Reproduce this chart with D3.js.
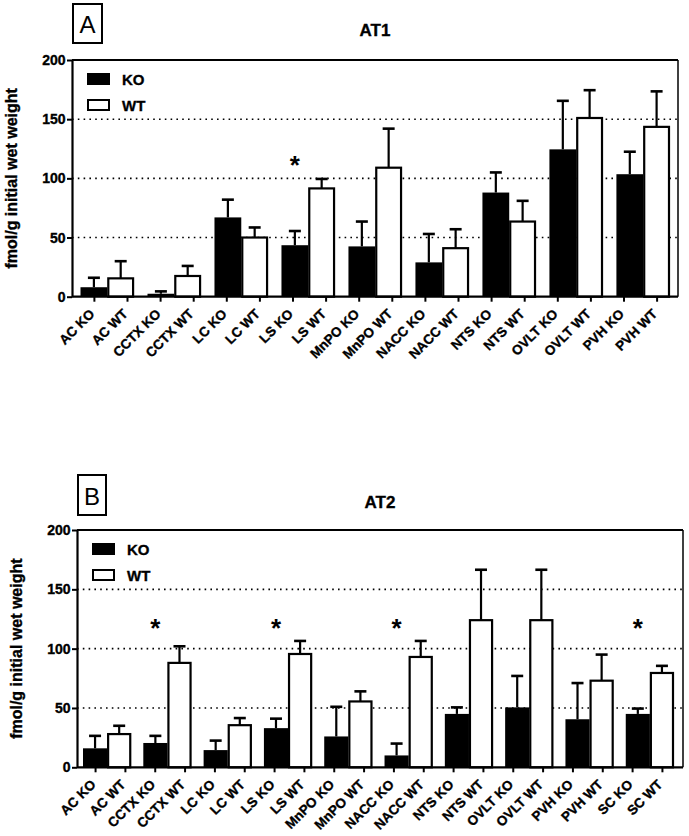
<!DOCTYPE html>
<html><head><meta charset="utf-8">
<script src="https://cdn.jsdelivr.net/npm/d3@7"></script>
<style>
body{margin:0;background:#fff;}
text{font-family:"Liberation Sans",Arial,sans-serif;}
.heavy{stroke:#000;stroke-width:0.35px;}
</style></head>
<body>
<svg id="chart" width="689" height="836"></svg>
<script>
// ---- Data ----
const yTicks = [0, 50, 100, 150, 200];
const groups = ["KO", "WT"];

const regionsA = ["AC", "CCTX", "LC", "LS", "MnPO", "NACC", "NTS", "OVLT", "PVH"];
const koA   = [8, 2.5, 67, 43.5, 42.5, 29, 88, 124.5, 103.5];
const koErrA= [8, 2, 15, 12, 21, 24, 17, 41, 19];
const wtA   = [15.5, 17.5, 50, 91.5, 109, 41, 63.5, 151, 143.5];
const wtErrA= [14.5, 8.5, 8.5, 8, 33, 16, 17.5, 23.5, 30];
const starsA = ["LS"];

const regionsB = ["AC", "CCTX", "LC", "LS", "MnPO", "NACC", "NTS", "OVLT", "PVH", "SC"];
const koB   = [16, 20.5, 14.5, 33, 26, 10, 45, 50.5, 40.5, 45];
const koErrB= [10.5, 6, 8, 8, 25, 10, 5.5, 26.5, 30.5, 4.5];
const wtB   = [28, 88, 35.5, 95.5, 55.5, 93, 124, 124, 73, 79.5];
const wtErrB= [7, 14, 6, 11, 8.5, 13.5, 42.5, 42.5, 22, 6];
const starsB = ["CCTX", "LS", "NACC", "SC"];

const svg = d3.select("#chart");
const FONT = "Liberation Sans, Arial, sans-serif";

function drawPanel(cfg) {
  const {letter, title, regions, ko, koErr, wt, wtErr, stars, L, R, T, B, barL, barR, letterBox, titleX, titleY, starY} = cfg;
  const g = svg.append("g");
  const y = d3.scaleLinear().domain([0, 200]).range([B, T]);
  const x0 = d3.scaleBand().domain(regions).range([barL, barR]).paddingInner(0.2).paddingOuter(0);
  const x1 = d3.scaleBand().domain(groups).range([0, x0.bandwidth()]).padding(0);

  // grid lines (dotted)
  g.selectAll("line.grid").data(yTicks.filter(t => t > 0 && t < 200)).join("line")
    .attr("x1", L).attr("x2", R).attr("y1", d => y(d)).attr("y2", d => y(d))
    .attr("stroke", "#000").attr("stroke-width", 1.6).attr("stroke-dasharray", "1.6,4.2");

  const rows = regions.map((r, i) => [
    {r, k: "KO", v: ko[i], e: koErr[i]},
    {r, k: "WT", v: wt[i], e: wtErr[i]}
  ]).flat();

  // error bars (upward only)
  const eb = g.selectAll("g.eb").data(rows).join("g");
  eb.append("line")
    .attr("x1", d => x0(d.r) + x1(d.k) + x1.bandwidth()/2)
    .attr("x2", d => x0(d.r) + x1(d.k) + x1.bandwidth()/2)
    .attr("y1", d => y(d.v)).attr("y2", d => y(d.v + d.e))
    .attr("stroke", "#000").attr("stroke-width", 2.2);
  eb.append("line")
    .attr("x1", d => x0(d.r) + x1(d.k) + x1.bandwidth()/2 - 6)
    .attr("x2", d => x0(d.r) + x1(d.k) + x1.bandwidth()/2 + 6)
    .attr("y1", d => y(d.v + d.e)).attr("y2", d => y(d.v + d.e))
    .attr("stroke", "#000").attr("stroke-width", 2.6);

  // bars
  g.selectAll("rect.bar").data(rows).join("rect")
    .attr("x", d => x0(d.r) + x1(d.k) + (d.k === "WT" ? 1 : 0))
    .attr("width", d => x1.bandwidth() - (d.k === "WT" ? 2 : 0))
    .attr("y", d => y(d.v))
    .attr("height", d => y(0) - y(d.v))
    .attr("fill", d => d.k === "KO" ? "#000" : "#fff")
    .attr("stroke", "#000").attr("stroke-width", d => d.k === "WT" ? 2.2 : 0);

  // frame top & right
  g.append("line").attr("x1", L).attr("x2", R).attr("y1", T).attr("y2", T).attr("stroke", "#000").attr("stroke-width", 2);
  g.append("line").attr("x1", R).attr("x2", R).attr("y1", T).attr("y2", B).attr("stroke", "#000").attr("stroke-width", 1.5);

  // y axis
  const ya = g.append("g").attr("transform", `translate(${L},0)`)
    .call(d3.axisLeft(y).tickValues(yTicks).tickSize(5).tickSizeOuter(0).tickPadding(1.5));
  ya.select(".domain").attr("stroke-width", 2.2);
  ya.selectAll(".tick line").attr("stroke-width", 2);
  ya.selectAll("text").attr("font-size", 14).attr("font-weight", "bold").attr("fill", "#000")
    .attr("font-family", FONT).attr("class", "heavy");

  // x axis
  const tickPos = rows.map(d => ({label: d.r + " " + d.k, x: x0(d.r) + x1(d.k) + x1.bandwidth()/2}));
  const xs = d3.scalePoint().domain(tickPos.map(d => d.label)).range([tickPos[0].x, tickPos[tickPos.length-1].x]);
  const xa = g.append("g").attr("transform", `translate(0,${B})`)
    .call(d3.axisBottom(xs).tickSize(5).tickSizeOuter(0));
  xa.select(".domain").attr("d", `M${L},0H${R}`).attr("stroke-width", 2.2);
  xa.selectAll(".tick line").attr("stroke-width", 2);
  xa.selectAll(".tick text")
    .attr("font-size", 13.5).attr("font-weight", "bold").attr("fill", "#000")
    .attr("font-family", FONT).attr("class", "heavy")
    .attr("text-anchor", "end").attr("dy", null).attr("y", 0)
    .attr("transform", "translate(1,18) rotate(-45)");

  // y label
  g.append("text").attr("class", "heavy")
    .attr("transform", `translate(${L - 55},${(T + B) / 2}) rotate(-90)`)
    .attr("text-anchor", "middle").attr("font-size", 16).attr("font-weight", "bold")
    .text("fmol/g initial wet weight");

  // title
  g.append("text").attr("class", "heavy").attr("x", titleX).attr("y", titleY).attr("text-anchor", "middle")
    .attr("font-size", 17).attr("font-weight", "bold").text(title);

  // panel letter box
  g.append("rect").attr("x", letterBox[0]).attr("y", letterBox[1]).attr("width", letterBox[2]).attr("height", letterBox[3])
    .attr("fill", "none").attr("stroke", "#000").attr("stroke-width", 2);
  g.append("text").attr("x", letterBox[0] + letterBox[2]/2).attr("y", letterBox[1] + letterBox[3] - 10)
    .attr("text-anchor", "middle").attr("font-size", 24).text(letter);

  // legend
  const lg = g.append("g").attr("transform", `translate(${L + 16},${T + 14})`);
  groups.forEach((k, i) => {
    lg.append("rect").attr("x", 0).attr("y", i * 26).attr("width", 21).attr("height", 10)
      .attr("fill", k === "KO" ? "#000" : "#fff").attr("stroke", "#000").attr("stroke-width", 2);
    lg.append("text").attr("class", "heavy").attr("x", 34).attr("y", i * 26 + 10.5)
      .attr("font-size", 15).attr("font-weight", "bold").text(k);
  });

  // significance stars
  g.selectAll("text.star").data(stars).join("text")
    .attr("x", d => x0(d) + x1("KO") + x1.bandwidth()/2)
    .attr("y", starY).attr("text-anchor", "middle")
    .attr("font-size", 26).attr("font-weight", "bold").text("*");
}

drawPanel({letter: "A", title: "AT1", regions: regionsA, ko: koA, koErr: koErrA, wt: wtA, wtErr: wtErrA, stars: starsA,
  L: 72, R: 678, T: 60, B: 296.7, barL: 80.5, barR: 670, letterBox: [73, 4, 29, 39], titleX: 375, titleY: 36, starY: 174});
drawPanel({letter: "B", title: "AT2", regions: regionsB, ko: koB, koErr: koErrB, wt: wtB, wtErr: wtErrB, stars: starsB,
  L: 77, R: 683, T: 530, B: 767.3, barL: 83, barR: 674, letterBox: [78, 475, 28, 40], titleX: 380, titleY: 508, starY: 637});
</script>
</body></html>
